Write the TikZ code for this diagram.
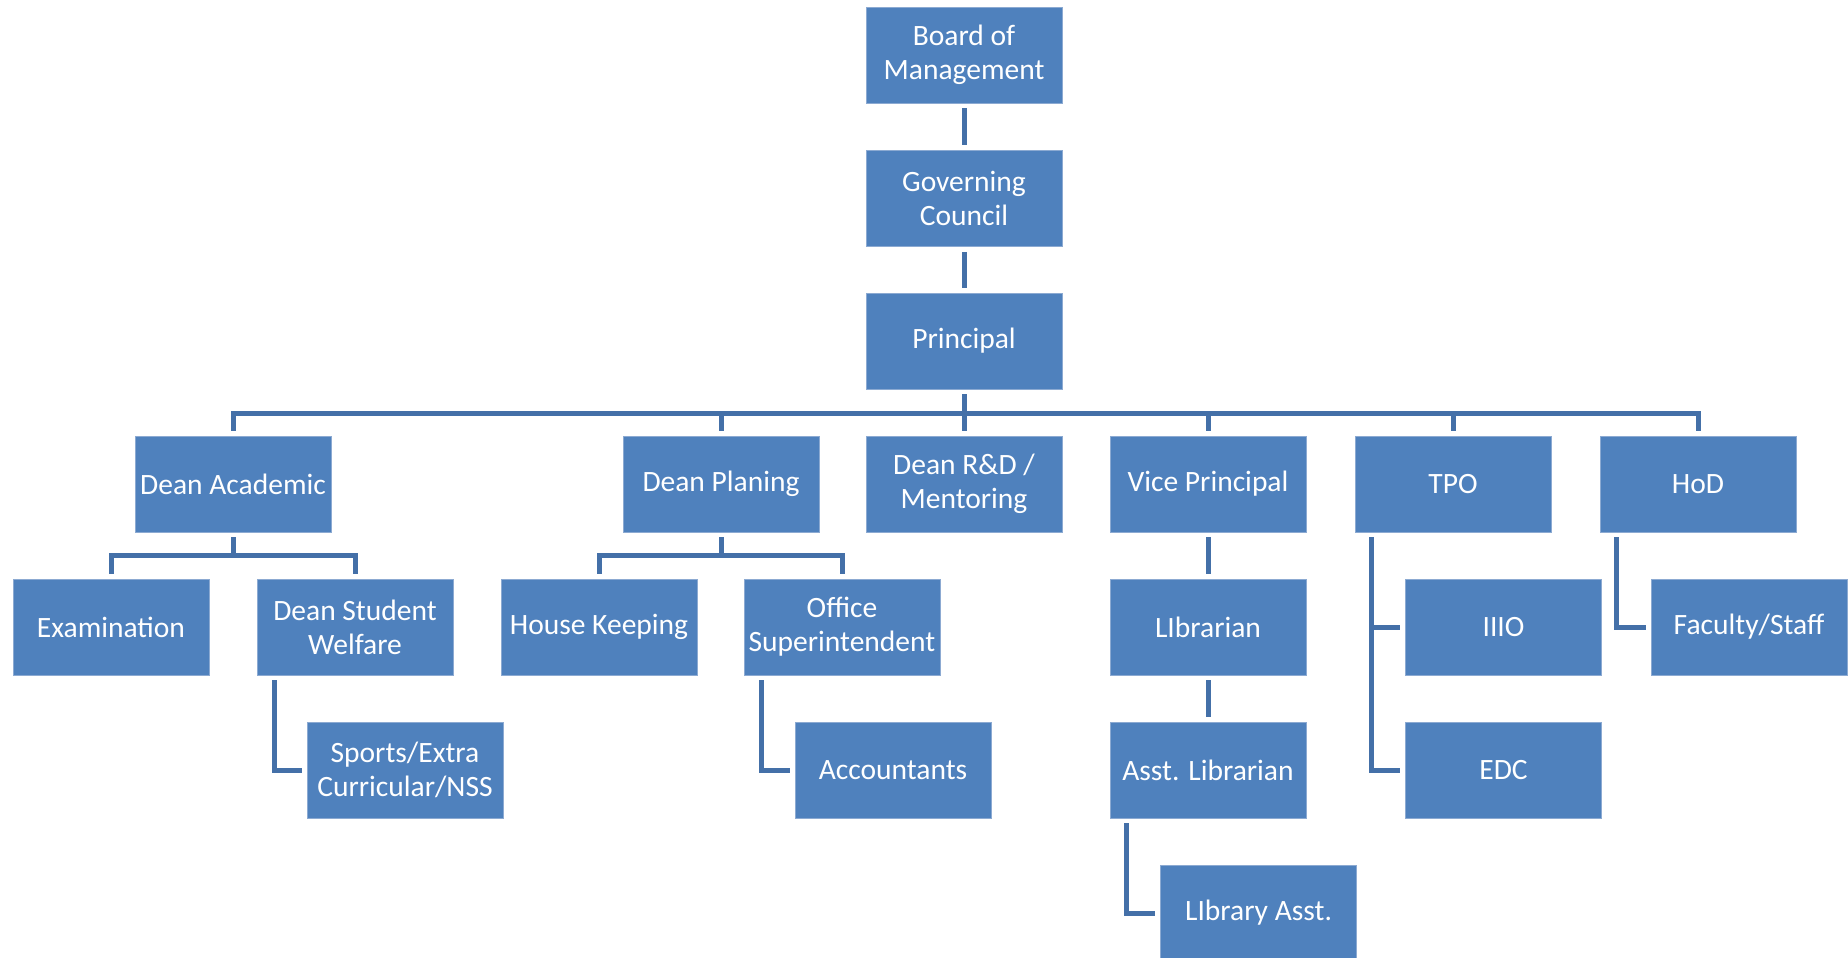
\documentclass[tikz,border=0pt]{standalone}
\usepackage{fontspec}
\setmainfont{Carlito}
\usetikzlibrary{calc}
\definecolor{boxblue}{RGB}{79,129,189}
\definecolor{boxedge}{RGB}{140,170,210}
\definecolor{linkblue}{RGB}{68,112,168}
\begin{document}
\begin{tikzpicture}[x=0.02cm,y=-0.02cm,line join=miter,
	box/.style={rectangle,fill=boxblue,draw=boxedge,line width=0.3pt,text=white,align=center,inner sep=0.5pt,minimum width=3.92cm,minimum height=1.92cm,font=\fontsize{16.8}{19.5}\selectfont},
	conn/.style={draw=linkblue,line width=0.1cm}]
	\useasboundingbox (0,0) rectangle (1848,957);
	% top column
	\node[box] (board) at (964,55) {Board of\\Management};
	\node[box] (gov) at (964,198.5) {Governing\\Council};
	\node[box] (prin) at (964,341) {Principal};
	% second row
	\node[box] (acad) at (233,484) {Dean Academic};
	\node[box] (plan) at (721,484) {Dean Planing};
	\node[box] (rnd) at (964,484) {Dean R\&D /\\Mentoring};
	\node[box] (vp) at (1208,484) {Vice Principal};
	\node[box] (tpo) at (1453,484) {TPO};
	\node[box] (hod) at (1698,484) {HoD};
	% third row
	\node[box] (exam) at (111,627) {Examination};
	\node[box] (dsw) at (355,627) {Dean Student\\Welfare};
	\node[box] (house) at (599,627) {House Keeping};
	\node[box] (office) at (842,627) {Office\\Superintendent};
	\node[box] (lib) at (1208,627) {LIbrarian};
	\node[box] (iiio) at (1503.5,627) {IIIO};
	\node[box] (fac) at (1749,627) {Faculty/Staff};
	% fourth and fifth row
	\node[box] (sports) at (405,770) {Sports/Extra\\Curricular/NSS};
	\node[box] (acc) at (893,770) {Accountants};
	\node[box] (asstlib) at (1208,770) {Asst. Librarian};
	\node[box] (edc) at (1503.5,770) {EDC};
	\node[box] (libasst) at (1258.5,913) {LIbrary Asst.};
	% connectors
	\draw[conn,shorten <=0.1cm,shorten >=0.1cm] (board) -- (gov);
	\draw[conn,shorten <=0.1cm,shorten >=0.1cm] (gov) -- (prin);
	\coordinate (bus) at (964,413);
	\draw[conn,shorten <=0.1cm] (prin.south) -- (bus);
	\draw[conn,shorten <=0.1cm,shorten >=0.1cm] (acad.north) |- (bus) -| (hod.north);
	\foreach \n in {plan,rnd,vp,tpo}
		\draw[conn,shorten >=0.1cm] (\n.north |- bus) -- (\n.north);
	\draw[conn,shorten <=0.1cm,shorten >=0.1cm] (exam.north) |- ($(acad.south)+(0,23)$) -| (dsw.north);
	\draw[conn,shorten <=0.1cm] (acad.south) -- ++(0,23);
	\draw[conn,shorten <=0.1cm,shorten >=0.1cm] (house.north) |- ($(plan.south)+(0,23)$) -| (office.north);
	\draw[conn,shorten <=0.1cm] (plan.south) -- ++(0,23);
	\draw[conn,shorten <=0.1cm,shorten >=0.1cm] (vp) -- (lib);
	\draw[conn,shorten <=0.1cm,shorten >=0.1cm] (lib) -- (asstlib);
	\draw[conn,shorten <=0.1cm,shorten >=0.1cm] ($(dsw.south west)+(18,0)$) |- (sports.west);
	\draw[conn,shorten <=0.1cm,shorten >=0.1cm] ($(office.south west)+(18,0)$) |- (acc.west);
	\draw[conn,shorten <=0.1cm,shorten >=0.1cm] ($(asstlib.south west)+(17,0)$) |- (libasst.west);
	\coordinate (tpoleg) at ($(tpo.south west)+(17,0)$);
	\draw[conn,shorten <=0.1cm,shorten >=0.1cm] (tpoleg) |- (edc.west);
	\draw[conn,shorten >=0.1cm] (tpoleg |- iiio.west) -- (iiio.west);
	\draw[conn,shorten <=0.1cm,shorten >=0.1cm] ($(hod.south west)+(17,0)$) |- (fac.west);
\end{tikzpicture}
\end{document}
